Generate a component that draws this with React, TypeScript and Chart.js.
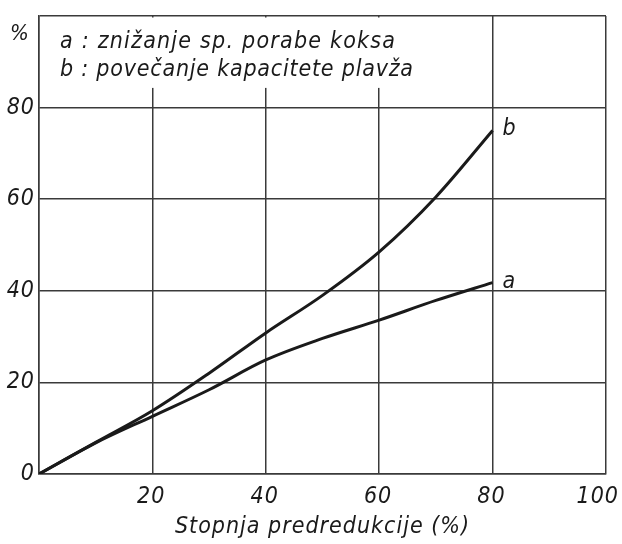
import React, { useEffect, useRef } from "react";
import { Chart, registerables } from "chart.js";

Chart.register(...registerables);

const xValues = [0, 10, 20, 30, 40, 50, 60, 70, 80];
const seriesA = [0, 6.8, 12.6, 18.4, 24.9, 29.6, 33.6, 37.9, 41.8];
const seriesB = [0, 6.9, 13.8, 22, 30.8, 39, 48.5, 60.5, 75];
const seriesLabels = ["a", "b"];
const legendLines = [
  "a : znižanje sp. porabe koksa",
  "b : povečanje kapacitete plavža",
];
const xTitle = "Stopnja predredukcije (%)";
const yUnit = "%";

const FONT = "'DejaVu Sans Condensed', 'Liberation Sans Narrow', 'DejaVu Sans', sans-serif";
const INK = "#1a1a1a";
const GRID = "#3a3a3a";

export default function App() {
  const ref = useRef<HTMLCanvasElement | null>(null);

  useEffect(() => {
    if (!ref.current) return;

    const overlay = {
      id: "overlay",
      beforeDraw(chart: any) {
        chart.ctx.letterSpacing = "1px";
      },
      beforeDatasetsDraw(chart: any) {
        const { ctx, chartArea, scales } = chart;
        const xS = scales.x;
        const yS = scales.y;
        ctx.save();
        ctx.fillStyle = "#ffffff";
        const x0 = chartArea.left + 1.5;
        const y0 = chartArea.top + 1.5;
        const x1 = xS.getPixelForValue(72);
        const y1 = yS.getPixelForValue(84.3);
        ctx.fillRect(x0, y0, x1 - x0, y1 - y0);
        ctx.restore();
      },
      afterDatasetsDraw(chart: any) {
        const { ctx, scales } = chart;
        const xS = scales.x;
        const yS = scales.y;
        ctx.save();
        ctx.fillStyle = INK;
        ctx.font = `italic 23px ${FONT}`;
        ctx.textBaseline = "alphabetic";
        ctx.textAlign = "left";
        const targets = [335, 353];
        const baselines = [48, 76];
        legendLines.forEach((t, i) => {
          ctx.letterSpacing = "0px";
          const w = ctx.measureText(t).width;
          const sp = Math.max(0, (targets[i] - w) / (t.length - 1));
          ctx.letterSpacing = `${sp}px`;
          ctx.fillText(t, xS.getPixelForValue(3.7), baselines[i]);
        });
        ctx.letterSpacing = "1px";
        ctx.font = `italic 23px ${FONT}`;
        ctx.textBaseline = "middle";
        chart.data.datasets.forEach((ds: any, i: number) => {
          const meta = chart.getDatasetMeta(i);
          const last = meta.data[meta.data.length - 1];
          ctx.fillText(seriesLabels[i], last.x + 10, last.y - 1);
        });
        ctx.textAlign = "center";
        ctx.font = `italic 22px ${FONT}`;
        ctx.fillText(yUnit, 20, yS.getPixelForValue(96));
        ctx.restore();
      },
      afterDraw(chart: any) {
        chart.ctx.letterSpacing = "0px";
      },
    };

    const chart = new Chart(ref.current, {
      type: "line",
      data: {
        datasets: [
          {
            label: seriesLabels[0],
            data: xValues.map((x, i) => ({ x, y: seriesA[i] })),
            borderColor: INK,
            borderWidth: 3,
            pointRadius: 0,
            cubicInterpolationMode: "monotone",
            fill: false,
          },
          {
            label: seriesLabels[1],
            data: xValues.map((x, i) => ({ x, y: seriesB[i] })),
            borderColor: INK,
            borderWidth: 3,
            pointRadius: 0,
            cubicInterpolationMode: "monotone",
            fill: false,
          },
        ],
      },
      options: {
        animation: false,
        responsive: false,
        maintainAspectRatio: false,
        layout: { padding: { top: 16, right: 16, left: 0, bottom: 0 }, autoPadding: false },
        plugins: {
          legend: { display: false },
          tooltip: { enabled: false },
          title: { display: false },
        },
        scales: {
          x: {
            type: "linear",
            min: 0,
            max: 100,
            afterFit: (s: any) => {
              s.height = 70;
              s.paddingLeft = 0;
              s.paddingRight = 0;
            },
            ticks: {
              stepSize: 20,
              padding: 9,
              align: "end",
              labelOffset: 13,
              color: INK,
              font: { family: FONT, size: 23, style: "italic" },
              callback: (v: any) => (v === 0 ? "" : String(v)),
              maxRotation: 0,
            },
            grid: { color: GRID, lineWidth: 1.5, drawTicks: false },
            border: { color: GRID, width: 1.5 },
            title: {
              display: true,
              text: xTitle,
              color: INK,
              font: { family: FONT, size: 23, style: "italic" },
              padding: { top: 0, bottom: 3 },
            },
          },
          y: {
            type: "linear",
            min: 0,
            max: 100,
            afterFit: (s: any) => {
              s.width = 39;
              s.paddingTop = 0;
              s.paddingBottom = 0;
            },
            ticks: {
              stepSize: 20,
              padding: 4,
              color: INK,
              font: { family: FONT, size: 23, style: "italic" },
              callback: (v: any) => (v === 100 ? "" : String(v)),
            },
            grid: { color: GRID, lineWidth: 1.5, drawTicks: false },
            border: { color: GRID, width: 1.5 },
          },
        },
      },
      plugins: [overlay],
    });

    return () => chart.destroy();
  }, []);

  return (
    <canvas
      ref={ref}
      width={622}
      height={544}
      style={{ position: "fixed", left: 0, top: 0, width: 622, height: 544, background: "#fff" }}
    />
  );
}
